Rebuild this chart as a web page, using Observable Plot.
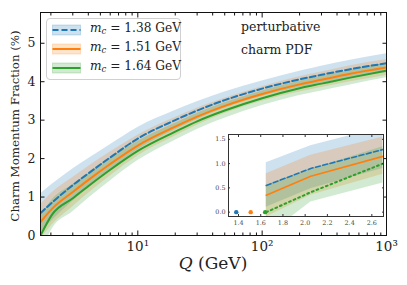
<!DOCTYPE html>
<html>
<head>
<meta charset="utf-8">
<script src="https://cdn.jsdelivr.net/npm/d3@7"></script>
<script src="https://cdn.jsdelivr.net/npm/@observablehq/plot@0.6"></script>
<style>
  html, body { margin: 0; padding: 0; background: #fff; }
  #wrap { position: relative; width: 407px; height: 285px; overflow: hidden; font-family: "DejaVu Serif", serif; color: #222; }
  #wrap svg { position: absolute; }
  .ov { position: absolute; white-space: nowrap; }
</style>
</head>
<body>
<div id="wrap"></div>
<script>
// ---------------- data ----------------
const seriesNames = ["1.38", "1.51", "1.64"];
const seriesColors = ["#1f77b4", "#ff7f0e", "#2ca02c"];
const Q = [1.65, 2.05, 3, 4.06, 6, 10, 20, 30, 50, 100, 200, 300, 500, 1000];
const blueMid   = [0.58, 0.86, 1.31, 1.63, 2.03, 2.52, 3.00, 3.25, 3.52, 3.82, 4.06, 4.18, 4.32, 4.48];
const blueHi    = [1.08, 1.33, 1.73, 2.01, 2.36, 2.81, 3.25, 3.48, 3.73, 4.02, 4.27, 4.40, 4.55, 4.73];
const blueLo    = [0.08, 0.39, 0.89, 1.25, 1.70, 2.23, 2.75, 3.02, 3.31, 3.62, 3.85, 3.96, 4.09, 4.23];
const orangeMid = [0.35, 0.70, 1.13, 1.46, 1.86, 2.34, 2.83, 3.09, 3.37, 3.68, 3.93, 4.05, 4.20, 4.37];
const orangeHi  = [0.80, 1.12, 1.51, 1.81, 2.17, 2.61, 3.07, 3.31, 3.57, 3.87, 4.13, 4.25, 4.41, 4.58];
const orangeLo  = [-0.10, 0.28, 0.75, 1.11, 1.55, 2.07, 2.59, 2.87, 3.17, 3.49, 3.73, 3.85, 3.99, 4.16];
const greenMid  = [0.00, 0.55, 0.97, 1.30, 1.71, 2.20, 2.70, 2.97, 3.25, 3.57, 3.83, 3.95, 4.10, 4.29];
const greenHi   = [0.50, 0.93, 1.32, 1.62, 2.00, 2.45, 2.92, 3.18, 3.45, 3.76, 4.02, 4.14, 4.29, 4.48];
const greenLo   = [-0.50, 0.17, 0.62, 0.98, 1.42, 1.95, 2.48, 2.76, 3.05, 3.38, 3.64, 3.76, 3.91, 4.10];

// inset (zoom on threshold region)
const insetQ = [1.65, 2.05, 2.7];
const insetBlueMid   = [0.55, 0.90, 1.29];
const insetBlueHi    = [1.02, 1.37, 1.75];
const insetBlueLo    = [0.10, 0.48, 0.90];
const insetOrangeMid = [0.35, 0.74, 1.15];
const insetOrangeHi  = [0.79, 1.17, 1.55];
const insetOrangeLo  = [-0.10, 0.35, 0.78];
const insetGreenMid  = [0.00, 0.41, 1.00];
const insetGreenHi   = [0.55, 0.88, 1.35];
const insetGreenLo   = [-0.50, 0.21, 0.60];
const thresholdQ = [1.38, 1.51, 1.64];
const thresholdVal = [0, 0, 0];

// tick labels
const xMajorTicks = [10, 100, 1000];
const xMajorLabels = ["10¹", "10²", "10³"];
const yTicks = [0, 1, 2, 3, 4, 5];
const insetXTicks = [1.4, 1.6, 1.8, 2.0, 2.2, 2.4, 2.6];
const insetYTicks = [0.0, 0.5, 1.0, 1.5];

// ---------------- tables ----------------
function table(qs, mids, his, los) {
  const rows = [];
  seriesNames.forEach((s, k) => {
    qs.forEach((q, i) => rows.push({s, Q: q, mid: mids[k][i], hi: his[k][i], lo: los[k][i]}));
  });
  return rows;
}
const mainData = table(Q, [blueMid, orangeMid, greenMid], [blueHi, orangeHi, greenHi], [blueLo, orangeLo, greenLo]);
const insetData = table(insetQ, [insetBlueMid, insetOrangeMid, insetGreenMid], [insetBlueHi, insetOrangeHi, insetGreenHi], [insetBlueLo, insetOrangeLo, insetGreenLo]);
const thresholdData = seriesNames.map((s, k) => ({s, Q: thresholdQ[k], v: thresholdVal[k]}));

const minorTicks = [];
for (const dec of [1, 10, 100]) for (let m = 2; m <= 9; m++) if (m * dec >= 1.65) minorTicks.push(m * dec);

const colorScale = {domain: seriesNames, range: seriesColors};
const dashes = {"1.38": "6,3", "1.51": null, "1.64": null};
const blank = () => "";

const wrap = document.getElementById("wrap");

// ---------------- main chart ----------------
const bandMarks = seriesNames.map(s => Plot.areaY(mainData.filter(d => d.s === s), {
  x: "Q", y1: "lo", y2: "hi", fill: "s", fillOpacity: 0.22, curve: "monotone-x", clip: true
}));
const lineMarks = seriesNames.map(s => Plot.line(mainData.filter(d => d.s === s), {
  x: "Q", y: "mid", stroke: "s", strokeWidth: 2, strokeDasharray: dashes[s], curve: "monotone-x", clip: true
}));

const main = Plot.plot({
  width: 407, height: 285,
  marginLeft: 40, marginRight: 21, marginTop: 12, marginBottom: 50,
  x: {type: "log", domain: [1.65, 1000]},
  y: {domain: [0, 5.8]},
  color: colorScale,
  style: {fontFamily: "DejaVu Serif", fontSize: "12px", color: "#222", background: "transparent", overflow: "visible"},
  marks: [
    ...bandMarks,
    ...lineMarks,
    Plot.frame({stroke: "#111", strokeWidth: 1}),
    Plot.axisX({ticks: xMajorTicks, tickSize: -4.5, tickPadding: 10.5, tickFormat: d => xMajorLabels[xMajorTicks.indexOf(d)], label: null, fontSize: 13.5, stroke: "#111"}),
    Plot.axisX({ticks: minorTicks, tickSize: -2.5, tickFormat: blank, label: null, stroke: "#111"}),
    Plot.axisX({anchor: "top", ticks: xMajorTicks, tickSize: -4.5, tickFormat: blank, label: null, stroke: "#111"}),
    Plot.axisX({anchor: "top", ticks: minorTicks, tickSize: -2.5, tickFormat: blank, label: null, stroke: "#111"}),
    Plot.axisY({ticks: yTicks, tickSize: -4.5, tickPadding: 9.5, tickFormat: d => String(d), label: null, fontSize: 12.5, stroke: "#111"}),
    Plot.axisY({anchor: "right", ticks: yTicks, tickSize: -4.5, tickFormat: blank, label: null, stroke: "#111"})
  ]
});
main.style.left = "0px"; main.style.top = "0px";
wrap.appendChild(main);

// ---------------- inset ----------------
const iBands = seriesNames.map(s => Plot.areaY(insetData.filter(d => d.s === s), {
  x: "Q", y1: "lo", y2: "hi", fill: "s", fillOpacity: 0.22, clip: true
}));
const iDash = {"1.38": "5,2.5", "1.51": null, "1.64": "1.8,3.2"};
const iWidth = {"1.38": 1.6, "1.51": 1.6, "1.64": 2};
const iLines = seriesNames.map(s => Plot.line(insetData.filter(d => d.s === s), {
  x: "Q", y: "mid", stroke: "s", strokeWidth: iWidth[s], strokeDasharray: iDash[s], clip: true
}));

const inset = Plot.plot({
  width: 182, height: 102,
  marginLeft: 23, marginRight: 4, marginTop: 6, marginBottom: 14,
  x: {domain: [1.31, 2.705]},
  y: {domain: [-0.09, 1.6]},
  color: colorScale,
  style: {fontFamily: "DejaVu Serif", fontSize: "6px", color: "#444", background: "transparent", overflow: "visible"},
  marks: [
    Plot.frame({fill: "white", stroke: "none"}),
    ...iBands,
    ...iLines,
    Plot.dot(thresholdData, {x: "Q", y: "v", fill: "s", r: 2.2, stroke: "none"}),
    Plot.frame({stroke: "#333", strokeWidth: 1}),
    Plot.axisX({ticks: insetXTicks, tickSize: -2, tickPadding: 6, tickFormat: d => d.toFixed(1), label: null, fontSize: 6.4, stroke: "#333"}),
    Plot.axisX({anchor: "top", ticks: insetXTicks, tickSize: -2, tickFormat: blank, label: null, stroke: "#333"}),
    Plot.axisY({ticks: insetYTicks, tickSize: -2, tickPadding: 5, tickFormat: d => d.toFixed(1), label: null, fontSize: 6.4, stroke: "#333"}),
    Plot.axisY({anchor: "right", ticks: insetYTicks, tickSize: -2, tickFormat: blank, label: null, stroke: "#333"})
  ]
});
inset.style.left = "205px"; inset.style.top = "128px";
wrap.appendChild(inset);

// ---------------- text overlays ----------------
function ov(html, css) {
  const d = document.createElement("div");
  d.className = "ov";
  d.innerHTML = html;
  Object.assign(d.style, css);
  wrap.appendChild(d);
  return d;
}
// y label
ov("Charm Momentum Fraction (%)", {left: "15.5px", top: "126px", fontSize: "11.8px", transform: "translate(-50%,-50%) rotate(-90deg)", lineHeight: "1"});
// x label
ov('<i>Q</i> (GeV)', {left: "213px", top: "263px", fontSize: "17px", transform: "translate(-50%,-50%)", lineHeight: "1"});
// annotation
ov("perturbative", {left: "241px", top: "21px", fontSize: "12.5px", lineHeight: "1"});
ov("charm PDF", {left: "241px", top: "44px", fontSize: "12.5px", lineHeight: "1"});

// legend
const leg = ov("", {left: "46px", top: "18px", width: "135px", height: "62px", border: "1px solid #d0d0d0", borderRadius: "4px", background: "rgba(255,255,255,0.8)", boxSizing: "border-box"});
seriesNames.forEach((s, k) => {
  const y = 11 + k * 19;
  const c = seriesColors[k];
  const dash = dashes[s] ? `stroke-dasharray="${dashes[s]}"` : "";
  const row = document.createElement("div");
  Object.assign(row.style, {position: "absolute", left: "5px", top: (y - 6) + "px", height: "12px", whiteSpace: "nowrap"});
  row.innerHTML = `<svg width="29" height="12" style="position:absolute;left:0;top:0"><rect x="0.5" y="1" width="28" height="10" fill="${c}" fill-opacity="0.22" stroke="${c}" stroke-opacity="0.22"/><line x1="0.5" x2="28.5" y1="6" y2="6" stroke="${c}" stroke-width="2" ${dash}/></svg>` +
    `<span style="position:absolute;left:38px;top:-2px;font-size:12.2px;line-height:1"><i>m</i><sub style="font-size:8.5px;font-style:italic;vertical-align:-2px">c</sub> = ${s} GeV</span>`;
  leg.appendChild(row);
});
</script>
</body>
</html>
